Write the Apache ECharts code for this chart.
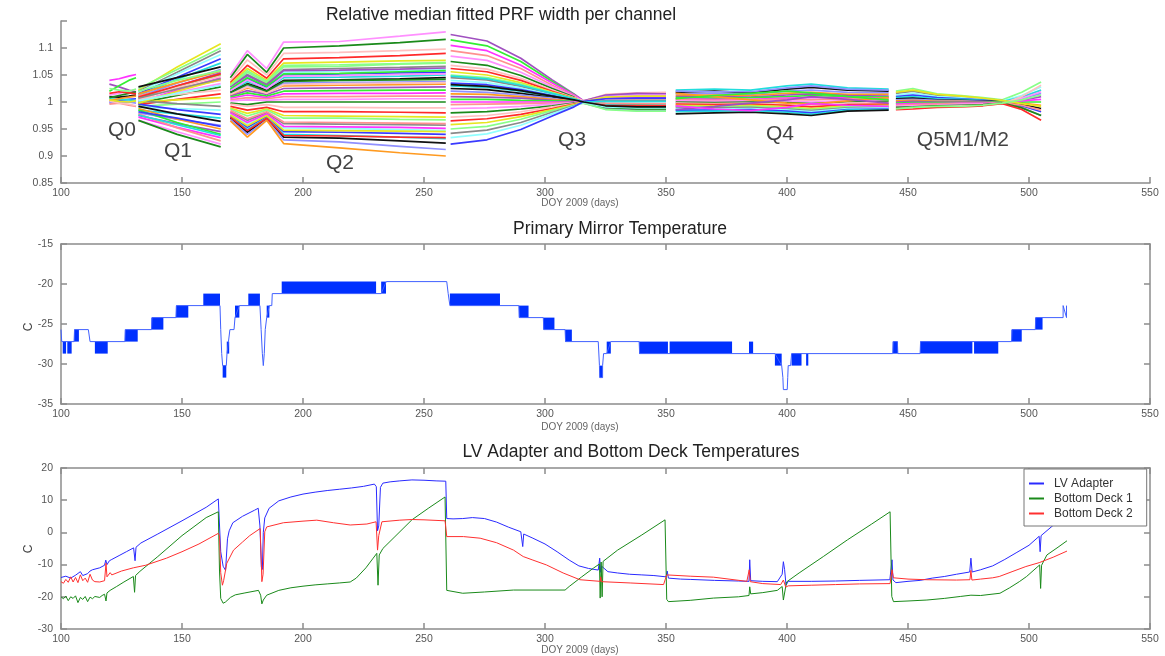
<!DOCTYPE html>
<html>
<head>
<meta charset="utf-8">
<script src="https://cdn.jsdelivr.net/npm/echarts@6/dist/echarts.min.js"></script>
<style>
  html, body { margin: 0; padding: 0; background: #fff; }
  #chart { width: 1165px; height: 656px; }
</style>
</head>
<body>
<div id="chart"></div>
<script>
// ---- top panel: relative median PRF width per channel, one block per quarter ----
const q0Days = [120, 124, 128, 131];
const q0Channels = [
  [1.000, 1.003, 1.005, 1.006], [1.006, 1.005, 1.004, 1.002], [1.010, 1.009, 1.011, 1.013],
  [0.998, 0.999, 1.000, 0.998], [1.003, 1.006, 1.009, 1.011], [1.033, 1.028, 1.022, 1.018],
  [1.020, 1.030, 1.040, 1.045], [1.040, 1.043, 1.048, 1.051], [0.996, 0.998, 0.994, 0.992],
  [1.013, 1.016, 1.020, 1.023], [1.008, 1.012, 1.016, 1.019], [1.002, 0.998, 0.996, 0.993],
  [1.016, 1.019, 1.017, 1.015], [1.004, 1.001, 1.000, 1.002], [1.025, 1.022, 1.020, 1.024]
];

const q1Days = [132, 148, 166];
const q1Channels = [
  [1.022, 1.065, 1.108], [1.025, 1.060, 1.100], [1.020, 1.055, 1.095], [1.018, 1.052, 1.088],
  [1.015, 1.046, 1.080], [1.012, 1.042, 1.072], [1.028, 1.045, 1.065], [1.010, 1.035, 1.060],
  [1.015, 1.036, 1.057], [1.005, 1.030, 1.054], [1.008, 1.028, 1.050], [1.000, 1.022, 1.045],
  [1.012, 1.025, 1.040], [1.003, 1.018, 1.034], [0.998, 1.012, 1.028], [1.006, 1.014, 1.022],
  [0.995, 1.005, 1.015], [1.000, 1.004, 1.008], [0.992, 0.996, 1.000], [1.002, 0.997, 0.992],
  [0.990, 0.988, 0.985], [0.996, 0.986, 0.977], [0.985, 0.978, 0.970], [0.992, 0.978, 0.964],
  [0.980, 0.968, 0.957], [0.988, 0.968, 0.950], [0.975, 0.960, 0.945], [0.985, 0.962, 0.940],
  [0.972, 0.953, 0.934], [0.978, 0.952, 0.928], [0.966, 0.945, 0.922], [0.966, 0.940, 0.917],
  [1.004, 1.027, 1.048], [1.009, 1.030, 1.052], [0.998, 1.020, 1.042], [1.020, 1.040, 1.058],
  [1.007, 1.024, 1.043], [1.002, 1.016, 1.031], [0.982, 0.970, 0.955], [0.976, 0.958, 0.938]
];

const q2Days = [170, 177, 185, 192, 215, 240, 259];
const q2Channels = [
  [1.050, 1.095, 1.062, 1.111, 1.112, 1.122, 1.130], [1.045, 1.088, 1.055, 1.100, 1.104, 1.110, 1.116],
  [1.040, 1.078, 1.050, 1.090, 1.092, 1.095, 1.098], [1.036, 1.068, 1.044, 1.080, 1.082, 1.086, 1.090],
  [1.033, 1.062, 1.040, 1.072, 1.074, 1.076, 1.077], [1.030, 1.055, 1.036, 1.065, 1.066, 1.070, 1.072],
  [1.027, 1.051, 1.033, 1.060, 1.062, 1.064, 1.066], [1.025, 1.047, 1.030, 1.055, 1.057, 1.058, 1.060],
  [1.022, 1.043, 1.028, 1.050, 1.052, 1.054, 1.055], [1.020, 1.038, 1.025, 1.045, 1.046, 1.048, 1.050],
  [1.018, 1.034, 1.022, 1.040, 1.041, 1.043, 1.045], [1.016, 1.030, 1.019, 1.035, 1.036, 1.037, 1.038],
  [1.013, 1.026, 1.017, 1.030, 1.031, 1.032, 1.033], [1.011, 1.021, 1.014, 1.025, 1.026, 1.027, 1.028],
  [1.009, 1.017, 1.011, 1.020, 1.021, 1.022, 1.022], [1.007, 1.013, 1.008, 1.015, 1.016, 1.016, 1.017],
  [1.004, 1.008, 1.006, 1.010, 1.010, 1.011, 1.011], [1.002, 1.004, 1.003, 1.005, 1.005, 1.006, 1.006],
  [0.998, 0.995, 1.000, 1.000, 1.000, 1.000, 1.000], [0.996, 0.992, 0.995, 0.990, 0.990, 0.989, 0.989],
  [0.992, 0.985, 0.990, 0.982, 0.982, 0.981, 0.980], [0.989, 0.979, 0.987, 0.975, 0.974, 0.973, 0.972],
  [0.987, 0.974, 0.985, 0.970, 0.970, 0.968, 0.967], [0.982, 0.966, 0.980, 0.960, 0.959, 0.958, 0.957],
  [0.978, 0.959, 0.977, 0.952, 0.951, 0.949, 0.947], [0.975, 0.953, 0.973, 0.945, 0.944, 0.942, 0.940],
  [0.973, 0.949, 0.971, 0.940, 0.938, 0.935, 0.932], [0.970, 0.944, 0.969, 0.935, 0.933, 0.928, 0.924],
  [0.968, 0.940, 0.967, 0.930, 0.926, 0.918, 0.912], [0.965, 0.935, 0.966, 0.923, 0.915, 0.906, 0.900],
  [1.028, 1.049, 1.031, 1.058, 1.059, 1.061, 1.063], [1.024, 1.045, 1.029, 1.052, 1.053, 1.056, 1.058],
  [0.980, 0.962, 0.978, 0.955, 0.954, 0.953, 0.951], [0.984, 0.969, 0.982, 0.963, 0.962, 0.961, 0.960],
  [1.021, 1.041, 1.024, 1.048, 1.049, 1.051, 1.052], [1.017, 1.033, 1.020, 1.038, 1.040, 1.041, 1.042],
  [1.014, 1.028, 1.016, 1.032, 1.034, 1.035, 1.036], [0.972, 0.947, 0.970, 0.938, 0.937, 0.935, 0.934],
  [0.976, 0.956, 0.975, 0.948, 0.947, 0.946, 0.945], [1.031, 1.058, 1.038, 1.068, 1.069, 1.071, 1.073]
];

const q3Days = [261, 276, 290, 303, 312, 316, 325, 338, 350];
const q3Channels = [
  [1.125, 1.113, 1.081, 1.041, 1.015, 1.002, 1.012, 1.015, 1.016], [1.115, 1.104, 1.075, 1.038, 1.014, 0.999, 0.992, 0.990, 0.990],
  [1.105, 1.095, 1.068, 1.035, 1.013, 1.001, 1.006, 1.008, 1.009], [1.095, 1.086, 1.062, 1.031, 1.011, 0.998, 0.988, 0.985, 0.986],
  [1.085, 1.077, 1.055, 1.028, 1.010, 1.001, 1.010, 1.012, 1.011], [1.075, 1.068, 1.049, 1.025, 1.009, 1.000, 0.997, 0.996, 0.995],
  [1.068, 1.061, 1.044, 1.022, 1.008, 1.002, 1.014, 1.017, 1.018], [1.062, 1.056, 1.040, 1.020, 1.007, 0.999, 0.994, 0.992, 0.992],
  [1.056, 1.050, 1.036, 1.018, 1.007, 1.000, 1.003, 1.004, 1.004], [1.050, 1.045, 1.033, 1.017, 1.006, 0.999, 0.990, 0.988, 0.988],
  [1.045, 1.041, 1.029, 1.015, 1.005, 1.001, 1.008, 1.010, 1.010], [1.040, 1.036, 1.026, 1.013, 1.005, 1.000, 0.998, 0.998, 0.997],
  [1.035, 1.032, 1.023, 1.012, 1.004, 1.001, 1.011, 1.014, 1.014], [1.030, 1.027, 1.020, 1.010, 1.004, 0.999, 0.995, 0.994, 0.994],
  [1.025, 1.023, 1.016, 1.008, 1.003, 1.001, 1.005, 1.006, 1.006], [1.020, 1.018, 1.013, 1.007, 1.002, 0.998, 0.987, 0.984, 0.984],
  [1.015, 1.014, 1.010, 1.005, 1.002, 1.000, 1.002, 1.002, 1.002], [1.010, 1.009, 1.007, 1.003, 1.001, 1.002, 1.013, 1.016, 1.015],
  [1.005, 1.005, 1.003, 1.002, 1.001, 0.999, 0.992, 0.990, 0.991], [1.000, 1.000, 1.000, 1.000, 1.000, 1.001, 1.007, 1.009, 1.009],
  [0.995, 0.996, 0.997, 0.998, 0.999, 1.000, 0.998, 0.997, 0.997], [0.988, 0.989, 0.992, 0.996, 0.999, 1.001, 1.010, 1.013, 1.013],
  [0.980, 0.982, 0.987, 0.993, 0.998, 0.999, 0.990, 0.987, 0.987], [0.972, 0.975, 0.982, 0.991, 0.997, 1.000, 1.004, 1.005, 1.005],
  [0.965, 0.969, 0.977, 0.988, 0.996, 0.999, 0.994, 0.993, 0.993], [0.958, 0.962, 0.973, 0.986, 0.995, 1.001, 1.009, 1.011, 1.011],
  [0.950, 0.955, 0.968, 0.984, 0.994, 0.998, 0.986, 0.983, 0.983], [0.942, 0.948, 0.962, 0.981, 0.993, 1.000, 1.002, 1.003, 1.003],
  [0.934, 0.941, 0.957, 0.978, 0.992, 0.999, 0.991, 0.989, 0.989], [0.922, 0.930, 0.949, 0.974, 0.991, 1.001, 1.006, 1.007, 1.007],
  [1.048, 1.043, 1.031, 1.016, 1.006, 1.000, 1.001, 1.001, 1.001], [1.032, 1.029, 1.021, 1.011, 1.004, 1.000, 0.993, 0.991, 0.991]
];

const q4Days = [354, 370, 385, 400, 410, 425, 442];
const q4Channels = [
  [1.022, 1.024, 1.022, 1.030, 1.033, 1.026, 1.024], [1.018, 1.020, 1.017, 1.024, 1.027, 1.022, 1.020],
  [1.015, 1.016, 1.014, 1.020, 1.022, 1.018, 1.017], [1.012, 1.013, 1.012, 1.016, 1.018, 1.014, 1.014],
  [1.010, 1.010, 1.009, 1.013, 1.015, 1.012, 1.011], [1.008, 1.007, 1.008, 1.010, 1.012, 1.010, 1.009],
  [1.006, 1.005, 1.005, 1.007, 1.008, 1.008, 1.007], [1.004, 1.003, 1.004, 1.005, 1.004, 1.006, 1.005],
  [1.002, 1.001, 1.002, 1.002, 1.000, 1.003, 1.003], [1.000, 0.999, 1.000, 0.999, 0.997, 1.000, 1.001],
  [0.998, 0.997, 0.998, 0.996, 0.994, 0.998, 0.999], [0.996, 0.995, 0.996, 0.994, 0.991, 0.995, 0.996],
  [0.994, 0.993, 0.994, 0.991, 0.988, 0.993, 0.994], [0.992, 0.991, 0.992, 0.989, 0.986, 0.991, 0.992],
  [0.990, 0.989, 0.990, 0.987, 0.984, 0.989, 0.990], [0.988, 0.987, 0.988, 0.985, 0.982, 0.988, 0.989],
  [0.985, 0.985, 0.986, 0.983, 0.980, 0.986, 0.987], [0.982, 0.983, 0.984, 0.981, 0.977, 0.985, 0.986],
  [0.978, 0.980, 0.981, 0.978, 0.975, 0.983, 0.985], [1.020, 1.019, 1.019, 1.026, 1.030, 1.024, 1.022],
  [1.016, 1.010, 1.004, 0.998, 0.996, 1.002, 1.008], [0.986, 0.992, 0.998, 1.004, 1.010, 1.005, 0.998],
  [1.006, 1.012, 1.016, 1.020, 1.017, 1.010, 1.004], [0.993, 0.987, 0.984, 0.990, 0.997, 0.994, 0.992]
];

const q5Days = [445, 452, 462, 472, 481, 489, 497, 505];
const q5Channels = [
  [1.020, 1.025, 1.015, 1.012, 1.008, 1.004, 1.018, 1.037], [1.016, 1.020, 1.012, 1.010, 1.006, 1.003, 0.990, 0.975],
  [1.013, 1.016, 1.010, 1.008, 1.005, 1.002, 1.012, 1.028], [1.010, 1.013, 1.008, 1.006, 1.004, 1.002, 0.993, 0.982],
  [1.008, 1.010, 1.006, 1.005, 1.003, 1.001, 1.009, 1.022], [1.006, 1.007, 1.004, 1.003, 1.002, 1.001, 0.996, 0.988],
  [1.004, 1.005, 1.003, 1.002, 1.001, 1.000, 1.006, 1.016], [1.002, 1.003, 1.001, 1.001, 1.000, 1.000, 0.998, 0.994],
  [1.000, 1.001, 1.000, 1.000, 1.000, 1.000, 1.003, 1.010], [0.998, 0.999, 0.999, 0.999, 0.999, 1.000, 1.000, 1.000],
  [0.996, 0.997, 0.997, 0.998, 0.998, 0.999, 1.002, 1.005], [0.994, 0.995, 0.996, 0.997, 0.997, 0.999, 0.994, 0.985],
  [0.992, 0.993, 0.994, 0.996, 0.996, 0.998, 1.007, 1.019], [0.990, 0.991, 0.993, 0.994, 0.995, 0.998, 0.989, 0.975],
  [0.988, 0.989, 0.991, 0.993, 0.994, 0.997, 1.010, 1.031], [0.986, 0.987, 0.990, 0.991, 0.993, 0.997, 0.986, 0.966],
  [1.018, 1.022, 1.014, 1.011, 1.007, 1.003, 0.997, 0.992], [0.987, 0.990, 0.992, 0.992, 0.994, 0.998, 1.004, 1.013]
];

// quarter labels: [text, day, value]
const quarterLabels = [
  ['Q0', 125.2, 0.948], ['Q1', 148.3, 0.909], ['Q2', 215.3, 0.887],
  ['Q3', 311.2, 0.929], ['Q4', 397.1, 0.940], ['Q5M1/M2', 472.7, 0.929]
];

// ---- middle panel: primary mirror temperature ----
// thin trace: [day, C]
const mirrorTrace = [
  [100, -25.7], [100.3, -27.2], [105.4, -27.2], [105.6, -25.7], [111.3, -25.7], [112, -27.2],
  [126.4, -27.2], [126.6, -25.7], [137.4, -25.7], [137.6, -24.2], [147.5, -24.2], [147.7, -22.7],
  [165.7, -22.7], [166.0, -25.7], [166.4, -28.7], [166.8, -30.2], [168.3, -30.2], [168.6, -28.7],
  [169.2, -27.2], [169.8, -25.7], [171.5, -25.7], [171.9, -24.2], [173.7, -22.7], [182.2, -22.7],
  [182.7, -25.7], [183.2, -28.7], [183.6, -30.2], [184.0, -28.7], [184.4, -25.7], [185.0, -24.2],
  [186.1, -22.7], [187.1, -22.7], [187.3, -21.2], [232.3, -21.2], [234.4, -19.7], [259.4, -19.7],
  [260.0, -21.2], [260.7, -22.7], [289.2, -22.7], [289.4, -24.2], [299.3, -24.2], [299.5, -25.7],
  [308.3, -25.7], [308.5, -27.2], [322.0, -27.2], [322.5, -30.2], [322.6, -31.7], [323.8, -31.7],
  [323.8, -30.2], [324.2, -28.7], [325.5, -28.7], [327.2, -27.2], [338.9, -27.2], [339.1, -28.7],
  [395, -28.7], [397.8, -30.2], [398.3, -31.7], [398.5, -33.2], [400.1, -33.2], [400.3, -31.7],
  [400.5, -30.2], [401.5, -30.2], [401.9, -28.7], [443.7, -28.7], [443.9, -27.2], [445.6, -27.2],
  [445.8, -28.7], [455, -28.7], [455.2, -27.2], [492.8, -27.2], [493.0, -25.7], [502.6, -25.7],
  [502.8, -24.2], [514.1, -24.2], [514.1, -22.7], [515.5, -24.2], [515.5, -22.7]
];
// periods where the reading toggles between two adjacent levels: [dayStart, dayEnd, low, high]
const mirrorToggleBands = [
  [100.7, 102.1, -28.7, -27.2], [102.6, 104.4, -28.7, -27.2], [105.4, 107.4, -27.2, -25.7],
  [114.0, 119.3, -28.7, -27.2], [126.4, 131.7, -27.2, -25.7], [137.4, 142.3, -25.7, -24.2],
  [147.5, 152.6, -24.2, -22.7], [158.8, 165.7, -22.7, -21.2], [166.8, 168.3, -31.7, -30.2],
  [168.5, 169.5, -28.7, -27.2], [171.9, 173.7, -24.2, -22.7], [177.4, 182.2, -22.7, -21.2],
  [185.0, 186.1, -24.2, -22.7], [191.2, 230.2, -21.2, -19.7], [232.3, 234.3, -21.2, -19.7],
  [260.7, 281.4, -22.7, -21.2], [289.2, 293.2, -24.2, -22.7], [299.3, 303.9, -25.7, -24.2],
  [308.3, 311.1, -27.2, -25.7], [322.6, 323.8, -31.7, -30.2], [325.5, 327.2, -28.7, -27.2],
  [338.9, 350.8, -28.7, -27.2], [351.5, 377.3, -28.7, -27.2], [384.3, 386.0, -28.7, -27.2],
  [395.0, 397.8, -30.2, -28.7], [401.9, 406.0, -30.2, -28.7], [407.9, 408.8, -30.2, -28.7],
  [443.7, 445.8, -28.7, -27.2], [455.0, 476.6, -28.7, -27.2], [477.3, 487.3, -28.7, -27.2],
  [492.8, 497.0, -27.2, -25.7], [502.6, 505.6, -25.7, -24.2]
];

// ---- bottom panel: LV adapter and bottom deck temperatures [day, C] ----
const lvAdapter = [
  [100, -14.0], [102, -13.6], [104, -14.2], [106, -13.3], [108, -12.2], [109, -13.4], [111, -12.8], [112, -12.0],
  [113, -11.6], [116, -11.0], [118, -10.2], [118.5, -8.6], [119, -10.0], [120, -8.8], [121, -8.4], [124, -7.2],
  [127, -6.0], [130, -4.8], [130.6, -8.8], [131, -4.6], [133, -3.3], [140, -0.5], [150, 3.6], [160, 7.8],
  [165, 10.4], [165.5, 9.8], [166, -6], [167, -10.5], [168, -11.8], [168.4, -11.5], [168.8, -2], [169.5, 0.5],
  [171, 3.0], [175, 5.0], [180, 6.9], [181.5, 7.5], [182.2, 2], [182.8, -10.8], [183.2, -11.5], [183.6, 0],
  [184.2, 4.5], [186, 7.5], [190, 9.8], [195, 11.0], [200, 11.9], [205, 12.5], [210, 13.0], [215, 13.4],
  [220, 13.8], [225, 14.3], [229.5, 15.0], [230.3, 14.2], [230.8, 0.5], [231.3, 2], [232, 14.0], [233, 15.3],
  [236, 15.7], [240, 16.0], [245, 16.3], [250, 16.2], [255, 16.0], [259, 15.9], [259.4, 4.3], [262, 4.2],
  [266, 4.3], [270, 4.6], [275, 4.3], [280, 3.2], [285, 1.6], [290, 0.2], [290.8, -4.4], [291.2, -0.5],
  [295, -1.8], [300, -3.6], [305, -6.0], [310, -8.6], [314, -10.4], [318, -11.2], [322, -11.7], [322.6, -8.0],
  [323, -12.4], [323.4, -10.5], [326, -12.2], [330, -12.6], [335, -13.0], [340, -13.2], [345, -13.4], [350, -13.8],
  [350.5, -12], [351, -14.2], [356, -14.5], [360, -14.6], [370, -14.9], [380, -15.1], [384.3, -15.2], [384.6, -8.5],
  [385, -15.0], [390, -15.2], [396, -15.3], [398, -13], [398.5, -9.1], [399, -11.5], [399.6, -16.4], [400.5, -15.2],
  [410, -15.2], [420, -15.1], [430, -14.9], [442.5, -14.7], [443.4, -8.5], [443.8, -14.8], [445, -15.6], [450, -15.2],
  [455, -14.9], [460, -14.2], [465, -13.7], [470, -13.0], [475.5, -12.3], [476, -8.0], [476.5, -12.3], [480, -11.6],
  [485, -10.4], [490, -8.4], [495, -6.2], [500, -4.0], [504.2, -1.2], [504.6, -6.0], [505, -1.0], [510, 2.2], [514, 3.5]
];
const bottomDeck1 = [
  [100, -20.0], [101, -20.6], [102, -19.8], [103, -21.2], [104, -20.0], [105, -20.5], [106, -19.7], [107, -21.8],
  [108, -20.2], [109, -20.8], [110, -19.9], [111, -21.5], [112, -20.1], [113, -20.6], [114, -19.9], [116, -20.2],
  [117, -19.6], [118, -19.2], [118.6, -21.3], [119, -18.8], [120.3, -18.0], [121, -18.4], [123, -16.8], [126, -15.4],
  [129.9, -13.7], [130.4, -18.6], [130.8, -13.4], [132.6, -12.1], [140, -7.5], [150, -1.0], [160, 4.6], [165, 6.4],
  [165.5, -12], [166, -20.5], [167, -22.0], [168, -21.6], [170, -20.2], [172, -19.4], [176, -18.8], [181.6, -18.0],
  [182.5, -19.5], [183, -22.2], [183.6, -21.0], [185, -19.5], [190, -18.0], [195, -17.2], [200, -16.7], [205, -16.3],
  [210, -16.0], [215, -15.7], [219.5, -15.4], [222, -14.2], [226, -11.0], [229, -8.0], [230.5, -6.5], [231, -16.4],
  [231.5, -7.0], [233, -5.0], [238, -1.3], [245, 3.9], [252, 7.6], [258.7, 11.0], [259.4, -18.0], [260, -18.4],
  [266, -18.9], [275, -18.5], [287, -17.9], [300, -17.9], [308.3, -17.9], [310, -16.8], [315, -13.9], [320, -11.1],
  [322.5, -9.8], [322.8, -20.4], [323.2, -9.2], [323.6, -20.0], [324, -9.0], [330, -5.5], [340, -0.8], [349.6, 3.9],
  [350.3, -20.8], [351, -21.5], [360, -21.1], [369.6, -20.4], [380, -20.0], [384.3, -19.6], [384.6, -16.9], [385, -19.1],
  [390, -18.7], [396, -18.0], [398, -16.8], [398.5, -21.0], [399.2, -21.0], [399.8, -15.4], [405, -12.6], [415, -7.5],
  [425, -2.3], [435, 2.6], [442.6, 6.4], [443.3, -19.9], [444, -21.5], [450, -21.3], [457.8, -21.0], [465, -20.5],
  [471.6, -19.9], [476, -19.5], [480, -19.6], [488, -18.9], [492, -17.2], [496, -15.3], [499, -13.7], [504.4, -10.1],
  [504.8, -17.4], [505.2, -10.2], [507.4, -7.0], [512, -4.6], [515.7, -2.6]
];
const bottomDeck2 = [
  [100, -15.3], [101, -15.8], [102, -14.6], [103, -15.5], [104, -13.8], [105, -15.4], [106, -14.0], [107, -15.6],
  [108, -13.2], [109, -15.0], [110, -14.2], [111, -15.5], [112, -13.0], [113, -14.8], [114, -15.3], [116, -15.4],
  [118, -15.0], [118.6, -9.6], [119, -13.8], [120.3, -12.5], [121, -13.2], [125, -12.0], [129.9, -11.0], [135, -10.2],
  [143.6, -8.0], [150, -6.0], [157, -3.6], [165, -0.3], [165.5, -1.0], [166, -12.5], [166.7, -16.4], [167.2, -15.0],
  [168.5, -9.6], [171.3, -5.5], [175, -3.0], [178, -1.0], [182.3, 1.2], [182.8, -10], [183, -15.3], [183.5, -13],
  [184.2, 0.2], [185, 1.7], [191.9, 3.0], [200, 3.5], [205.7, 3.8], [212.6, 3.0], [219.5, 2.3], [226.4, 2.6],
  [230.2, 3.3], [230.8, -5.5], [231.3, -1], [232.6, 3.3], [240, 3.8], [245, 4.0], [250, 3.9], [258.7, 3.6],
  [259.4, -1.3], [266.3, -1.3], [273.2, -1.8], [280, -3.2], [287, -5.5], [291, -7.5], [295, -8.6], [300.6, -10.1],
  [307.5, -12.6], [314.4, -14.7], [322.8, -15.2], [323, -13.8], [323.3, -15.3], [335.2, -15.7], [349, -16.2], [350.3, -13.2],
  [360, -13.6], [369.6, -13.9], [383.4, -15.2], [384.4, -11.6], [384.8, -15.3], [390, -15.9], [397.4, -16.2], [398.5, -14.8],
  [399.5, -17.0], [400.5, -16.6], [410, -16.4], [420, -16.2], [430, -16.0], [442.6, -15.9], [443.4, -11.6], [444, -14.1],
  [450, -14.5], [457.8, -14.7], [470, -14.8], [475.6, -14.7], [476, -11.8], [476.4, -14.8], [480, -14.5], [485, -14.1],
  [487.7, -13.7], [493, -12.2], [498.7, -10.6], [504.2, -9.4], [510, -7.7], [515.7, -5.8]
];

const channelPalette = ['#3a3aff', '#33ee33', '#ff2a2a', '#22dddd', '#ff33ff', '#e6e620', '#111111',
  '#ff9090', '#88ff88', '#9090ff', '#ff90ff', '#8a8a8a', '#ff9a20', '#1a8a1a', '#90ffff', '#a050c0', '#ffc0c0'];

const FONT = '"Liberation Sans", Arial, sans-serif';
const AXIS_COLOR = '#8c8c8c';

function quarterSeries(days, channels, offset) {
  return channels.map((ch, i) => ({
    type: 'line', xAxisIndex: 0, yAxisIndex: 0, symbol: 'none', silent: true,
    lineStyle: { width: 1.7, color: channelPalette[(i * 3 + offset) % channelPalette.length] },
    data: days.map((d, k) => [d, ch[k]])
  }));
}

function xAx(grid, opts) {
  return Object.assign({
    type: 'value', gridIndex: grid, min: 100, max: 550, interval: 50,
    axisLine: { onZero: false, lineStyle: { color: AXIS_COLOR, width: 1.5 } },
    axisTick: { inside: true, length: 6, lineStyle: { color: AXIS_COLOR, width: 1.5 } },
    axisLabel: { color: '#555', fontSize: 10.5, fontFamily: FONT, margin: 5 },
    splitLine: { show: false }
  }, opts || {});
}
function yAx(grid, min, max, interval, opts) {
  return Object.assign({
    type: 'value', gridIndex: grid, min: min, max: max, interval: interval,
    axisLine: { show: true, onZero: false, lineStyle: { color: AXIS_COLOR, width: 1.5 } },
    axisTick: { show: true, inside: true, length: 6, lineStyle: { color: AXIS_COLOR, width: 1.5 } },
    axisLabel: { color: '#555', fontSize: 10.5, fontFamily: FONT, margin: 8 },
    splitLine: { show: false }
  }, opts || {});
}
const hiddenLabel = { show: false };

const series = [];
let off = 0;
[[q0Days, q0Channels], [q1Days, q1Channels], [q2Days, q2Channels],
 [q3Days, q3Channels], [q4Days, q4Channels], [q5Days, q5Channels]].forEach(([d, c]) => {
  series.push(...quarterSeries(d, c, off));
  off += 5;
});
series.push({
  type: 'scatter', xAxisIndex: 0, yAxisIndex: 0, symbolSize: 0, silent: true,
  data: quarterLabels.map(q => ({ name: q[0], value: [q[1], q[2]] })),
  label: { show: true, position: 'inside', formatter: p => p.name, fontSize: 21, color: '#111', fontFamily: FONT }
});
series.push({
  type: 'custom', xAxisIndex: 1, yAxisIndex: 1, silent: true,
  encode: { x: [0, 1], y: [2, 3] },
  data: mirrorToggleBands,
  renderItem: (params, api) => {
    const a = api.coord([api.value(0), api.value(3)]);
    const b = api.coord([api.value(1), api.value(2)]);
    return { type: 'rect', shape: { x: a[0], y: a[1], width: b[0] - a[0], height: b[1] - a[1] },
             style: { fill: '#0030ff' } };
  }
});
series.push({
  type: 'line', xAxisIndex: 1, yAxisIndex: 1, symbol: 'none', silent: true,
  lineStyle: { width: 1, color: '#4060ff' }, data: mirrorTrace
});
series.push(
  { name: 'LV Adapter', type: 'line', xAxisIndex: 3, yAxisIndex: 3, symbol: 'none',
    lineStyle: { width: 1, color: '#2a2aff' }, itemStyle: { color: '#2a2aff' }, data: lvAdapter },
  { name: 'Bottom Deck 1', type: 'line', xAxisIndex: 3, yAxisIndex: 3, symbol: 'none',
    lineStyle: { width: 1, color: '#1a8a1a' }, itemStyle: { color: '#1a8a1a' }, data: bottomDeck1 },
  { name: 'Bottom Deck 2', type: 'line', xAxisIndex: 3, yAxisIndex: 3, symbol: 'none',
    lineStyle: { width: 1, color: '#ff3030' }, itemStyle: { color: '#ff3030' }, data: bottomDeck2 }
);

function txt(x, y, text, size, color, rotation) {
  return { type: 'text', x: x, y: y, rotation: rotation || 0, silent: true,
    style: { text: text, fontSize: size, fill: color, fontFamily: FONT, align: 'center', verticalAlign: 'middle' } };
}

const chart = echarts.init(document.getElementById('chart'), null, { renderer: 'canvas' });
chart.setOption({
  animation: false,
  backgroundColor: '#ffffff',
  grid: [
    { left: 61, right: 15, top: 21, height: 162 },
    { left: 61, right: 15, top: 244, height: 160 },
    { left: 61, right: 15, top: 468, height: 161 }
  ],
  xAxis: [
    xAx(0),
    xAx(1),
    xAx(1, { position: 'top', axisLabel: hiddenLabel }),
    xAx(2),
    xAx(2, { position: 'top', axisLabel: hiddenLabel })
  ],
  yAxis: [
    yAx(0, 0.85, 1.15, 0.05, { axisLabel: { color: '#555', fontSize: 10.5, fontFamily: FONT, margin: 8,
      formatter: v => v > 1.12 ? '' : String(Math.round(v * 100) / 100) } }),
    yAx(1, -35, -15, 5),
    yAx(1, -35, -15, 5, { position: 'right', axisLabel: hiddenLabel }),
    yAx(2, -30, 20, 10),
    yAx(2, -30, 20, 10, { position: 'right', axisLabel: hiddenLabel })
  ],
  legend: {
    data: ['LV Adapter', 'Bottom Deck 1', 'Bottom Deck 2'],
    orient: 'vertical', left: 1024, top: 469,
    backgroundColor: '#ffffff', borderColor: '#777', borderWidth: 1, borderRadius: 0,
    padding: [8, 14, 6, 5], itemGap: 2, itemWidth: 15, itemHeight: 2, icon: 'rect',
    textStyle: { color: '#333', fontSize: 12, fontFamily: FONT, lineHeight: 13, padding: [0, 0, 0, 5] }
  },
  graphic: [
    txt(501, 15, 'Relative median fitted PRF width per channel', 17.5, '#222'),
    txt(620, 229, 'Primary Mirror Temperature', 17.5, '#222'),
    txt(631, 452, 'LV Adapter and Bottom Deck Temperatures', 17.5, '#222'),
    txt(580, 203, 'DOY 2009 (days)', 10, '#666'),
    txt(580, 427, 'DOY 2009 (days)', 10, '#666'),
    txt(580, 650, 'DOY 2009 (days)', 10, '#666'),
    txt(29, 327, 'C', 12, '#444', Math.PI / 2),
    txt(29, 549, 'C', 12, '#444', Math.PI / 2)
  ],
  series: series
});
</script>
</body>
</html>
